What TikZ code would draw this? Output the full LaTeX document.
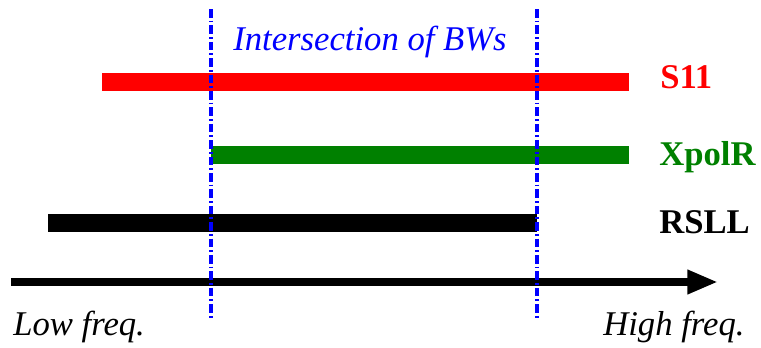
\documentclass[tikz,border=0pt]{standalone}
\usepackage{fontspec}
\setmainfont{Liberation Serif}
\usepackage{xcolor}
\definecolor{bandgreen}{RGB}{0,128,0}
\usetikzlibrary{arrows.meta}
\tikzset{
  band/.style={line width=14pt},
  bwlimit/.style={draw=blue,line width=2.6pt,dash pattern=on 6.5pt off 2.2pt on 1.4pt off 2.2pt},
  freqaxis/.style={-{Triangle[length=23pt,width=17pt]},line width=6pt},
  bandlabel/.style={font=\fontsize{26pt}{30pt}\selectfont\bfseries,anchor=base west,inner sep=0pt},
  freqlabel/.style={font=\fontsize{26pt}{30pt}\selectfont\itshape,anchor=base west,inner sep=0pt},
}

\begin{document}
\begin{tikzpicture}[x=0.75pt,y=-0.75pt]
\useasboundingbox (0,0) rectangle (761,347);
% bandwidth ends
\coordinate (s11L) at (102,82);
\coordinate (s11R) at (629,82);
\coordinate (xpolL) at (211,155);
\coordinate (xpolR) at (629,155);
\coordinate (rsllL) at (48,223);
\coordinate (rsllR) at (537,223);
\coordinate (axL) at (11,282);
\coordinate (axR) at (718,282);
\coordinate (lowT) at (211,9);
\coordinate (lowB) at (211,318);
\coordinate (highT) at (537,9);
\coordinate (highB) at (537,318);
% bands
\draw[band,red] (s11L) -- (s11R);
\draw[band,bandgreen] (xpolL) -- (xpolR);
\draw[band,black] (rsllL) -- (rsllR);
\draw[freqaxis] (axL) -- (axR);
% labels
\node[bandlabel,text=red] (s11) at (660,88) {S11};
\node[bandlabel,text=bandgreen] (xpol) at (659,165) {XpolR};
\node[bandlabel] (rsll) at (659,233) {RSLL};
\node[freqlabel,text=blue] (inter) at (233,50) {Intersection of BWs};
\node[freqlabel] (low) at (13,335) {Low freq.};
\node[freqlabel] (high) at (603,335) {High freq.};
% limits
\draw[bwlimit] (lowT) -- (lowB);
\draw[bwlimit] (highT) -- (highB);
\end{tikzpicture}
\end{document}
